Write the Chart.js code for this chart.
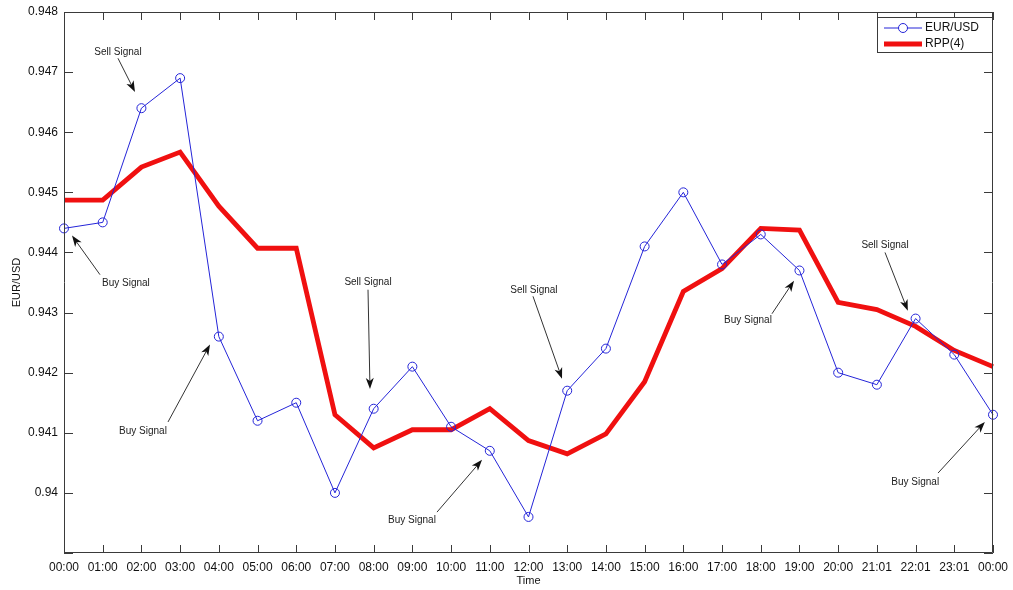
<!DOCTYPE html>
<html>
<head>
<meta charset="utf-8">
<script src="https://cdn.jsdelivr.net/npm/chart.js@4/dist/chart.umd.min.js"></script>
<style>
  body { margin: 0; background: #fff; }
  #wrap { width: 1013px; height: 590px; }
</style>
</head>
<body>
<div id="wrap"><canvas id="fxChart" width="1013" height="590"></canvas></div>
<script>
// time axis labels
const timeLabels = ["00:00", "01:00", "02:00", "03:00", "04:00", "05:00", "06:00", "07:00",
  "08:00", "09:00", "10:00", "11:00", "12:00", "13:00", "14:00", "15:00", "16:00",
  "17:00", "18:00", "19:00", "20:00", "21:01", "22:01", "23:01", "00:00"];

// EUR/USD quotes
const eurUsd = [0.9444, 0.9445, 0.9464, 0.9469, 0.9426, 0.9412, 0.9415, 0.9400,
  0.9414, 0.9421, 0.9411, 0.9407, 0.9396, 0.9417, 0.9424, 0.9441, 0.9450,
  0.9438, 0.9443, 0.9437, 0.9420, 0.9418, 0.9429, 0.9423, 0.9413];

// RPP(4) indicator
const rpp4 = [0.94487, 0.94487, 0.94542, 0.94567, 0.94477, 0.94407, 0.94407, 0.9413,
  0.94075, 0.94105, 0.94105, 0.9414, 0.94087, 0.94065, 0.94098, 0.94185, 0.94335,
  0.94373, 0.9444, 0.94437, 0.94317, 0.94305, 0.94277, 0.94237, 0.9421];

const yMin = 0.939, yMax = 0.948, yStep = 0.001;

// signal annotations: text spot, arrow tail, arrow head (x = category index, y = value)
const signalText = ["Sell Signal", "Buy Signal", "Buy Signal", "Sell Signal", "Buy Signal",
  "Sell Signal", "Buy Signal", "Sell Signal", "Buy Signal"];
const signalAt = [[1.395, 0.94733], [1.60, 0.94348], [2.04, 0.94103], [7.854, 0.9435],
  [8.99, 0.93955], [12.14, 0.94337], [17.67, 0.94287], [21.21, 0.94412], [21.99, 0.94018]];
const signalTail = [[1.395, 0.94723], [0.93, 0.94363], [2.687, 0.94118], [7.854, 0.94338],
  [9.636, 0.93968], [12.116, 0.94327], [18.29, 0.94298], [21.21, 0.944], [22.58, 0.94033]];
const signalHead = [[1.834, 0.94667], [0.207, 0.94428], [3.772, 0.94247], [7.905, 0.94173],
  [10.80, 0.94055], [12.866, 0.9419], [18.86, 0.94353], [21.80, 0.94303], [23.79, 0.94118]];

const FONT = "'Liberation Sans', Arial, sans-serif";
const AXIS_COLOR = "#3a3a3a";

// box around the axes with inward ticks, like the original plot
const framePlugin = {
  id: "frame",
  afterDatasetsDraw(chart) {
    const { ctx, chartArea: a } = chart;
    const xs = chart.scales.x, ys = chart.scales.y;
    ctx.save();
    ctx.strokeStyle = AXIS_COLOR;
    ctx.lineWidth = 1;
    ctx.beginPath();
    ctx.rect(a.left + 0.5, a.top + 0.5, a.right - a.left - 1, a.bottom - a.top - 1);
    ctx.stroke();
    ctx.beginPath();
    xs.ticks.forEach((t, i) => {
      const px = Math.round(xs.getPixelForTick(i)) + 0.5;
      ctx.moveTo(px, a.bottom); ctx.lineTo(px, a.bottom - 8);
      ctx.moveTo(px, a.top); ctx.lineTo(px, a.top + 8);
    });
    ys.ticks.forEach((t, i) => {
      const py = Math.round(ys.getPixelForTick(i)) + 0.5;
      ctx.moveTo(a.left, py); ctx.lineTo(a.left + 9, py);
      ctx.moveTo(a.right, py); ctx.lineTo(a.right - 9, py);
    });
    ctx.stroke();
    ctx.restore();
  }
};

// arrows and their labels
const signalPlugin = {
  id: "signals",
  afterDatasetsDraw(chart) {
    const { ctx } = chart;
    const xs = chart.scales.x, ys = chart.scales.y;
    const pt = (p) => [xs.getPixelForValue(p[0]), ys.getPixelForValue(p[1])];
    ctx.save();
    ctx.font = "10px " + FONT;
    ctx.textAlign = "center";
    ctx.textBaseline = "middle";
    signalText.forEach((txt, i) => {
      const [tx, ty] = pt(signalAt[i]);
      const [x0, y0] = pt(signalTail[i]);
      const [x1, y1] = pt(signalHead[i]);
      ctx.fillStyle = "#222";
      ctx.fillText(txt, tx, ty);
      const ang = Math.atan2(y1 - y0, x1 - x0);
      const len = 11, half = 4;
      const bx = x1 - Math.cos(ang) * len, by = y1 - Math.sin(ang) * len;
      ctx.strokeStyle = "#333";
      ctx.lineWidth = 1;
      ctx.beginPath();
      ctx.moveTo(x0, y0);
      ctx.lineTo(bx + Math.cos(ang) * 4, by + Math.sin(ang) * 4);
      ctx.stroke();
      ctx.fillStyle = "#111";
      ctx.beginPath();
      ctx.moveTo(x1, y1);
      ctx.lineTo(bx - Math.sin(ang) * half, by + Math.cos(ang) * half);
      ctx.lineTo(bx + Math.cos(ang) * 3, by + Math.sin(ang) * 3);
      ctx.lineTo(bx + Math.sin(ang) * half, by - Math.cos(ang) * half);
      ctx.closePath();
      ctx.fill();
    });
    ctx.restore();
  }
};

// legend box in the upper right corner of the axes
const legendPlugin = {
  id: "boxLegend",
  afterDraw(chart) {
    const { ctx, chartArea: a } = chart;
    const ds = chart.data.datasets;
    const bx = a.right - 116, by = a.top + 5, bw = 116, bh = 36;
    ctx.save();
    ctx.fillStyle = "#fff";
    ctx.fillRect(bx, by, bw, bh);
    ctx.strokeStyle = AXIS_COLOR;
    ctx.lineWidth = 1;
    ctx.strokeRect(bx + 0.5, by + 0.5, bw - 1, bh - 1);
    ctx.font = "12px " + FONT;
    ctx.textBaseline = "middle";
    ds.forEach((d, i) => {
      const y = by + 11 + i * 16;
      ctx.strokeStyle = d.borderColor;
      ctx.lineWidth = d.borderWidth;
      ctx.beginPath();
      ctx.moveTo(bx + 7, y); ctx.lineTo(bx + 45, y);
      ctx.stroke();
      if (d.pointRadius > 0) {
        ctx.lineWidth = 1;
        ctx.beginPath();
        ctx.arc(bx + 26, y, d.pointRadius, 0, Math.PI * 2);
        ctx.fillStyle = "#fff";
        ctx.fill();
        ctx.stroke();
      }
      ctx.fillStyle = "#111";
      ctx.fillText(d.label, bx + 48, y);
    });
    ctx.restore();
  }
};

new Chart(document.getElementById("fxChart"), {
  type: "line",
  data: {
    labels: timeLabels,
    datasets: [
      {
        label: "EUR/USD",
        data: eurUsd,
        borderColor: "#2424d8",
        borderWidth: 1,
        pointRadius: 4.5,
        pointHoverRadius: 4.5,
        pointBorderColor: "#2424d8",
        pointBackgroundColor: "rgba(0,0,0,0)",
        pointBorderWidth: 1,
        tension: 0
      },
      {
        label: "RPP(4)",
        data: rpp4,
        borderColor: "#f01010",
        borderWidth: 4.8,
        pointRadius: 0,
        tension: 0,
        borderJoinStyle: "miter"
      }
    ]
  },
  options: {
    responsive: false,
    animation: false,
    layout: { padding: { left: 0, top: 12, right: 20, bottom: 0 } },
    plugins: {
      legend: { display: false },
      tooltip: { enabled: false }
    },
    scales: {
      x: {
        type: "category",
        offset: false,
        grid: { display: false, drawTicks: false },
        border: { display: false },
        ticks: {
          autoSkip: false, maxRotation: 0, padding: 7,
          color: "#111", font: { family: FONT, size: 12 }
        },
        title: {
          display: true, text: "Time", color: "#111",
          font: { family: FONT, size: 11 }, padding: { top: 0, bottom: 2 }
        },
        afterFit(s) { s.height = 37; s.paddingLeft = 0; s.paddingRight = 0; }
      },
      y: {
        min: yMin, max: yMax,
        grid: { display: false, drawTicks: false },
        border: { display: false },
        ticks: {
          stepSize: yStep, padding: 6, color: "#111",
          font: { family: FONT, size: 12 },
          callback(v) {
            if (Math.abs(v - yMin) < 1e-9) return "";
            return String(Number(v.toFixed(3)));
          }
        },
        title: {
          display: true, text: "EUR/USD", color: "#111",
          font: { family: FONT, size: 11 }, padding: { top: 10, bottom: 0 }
        },
        afterFit(s) { s.width = 64; s.paddingTop = 0; s.paddingBottom = 0; }
      }
    }
  },
  plugins: [framePlugin, signalPlugin, legendPlugin]
});
</script>
</body>
</html>
